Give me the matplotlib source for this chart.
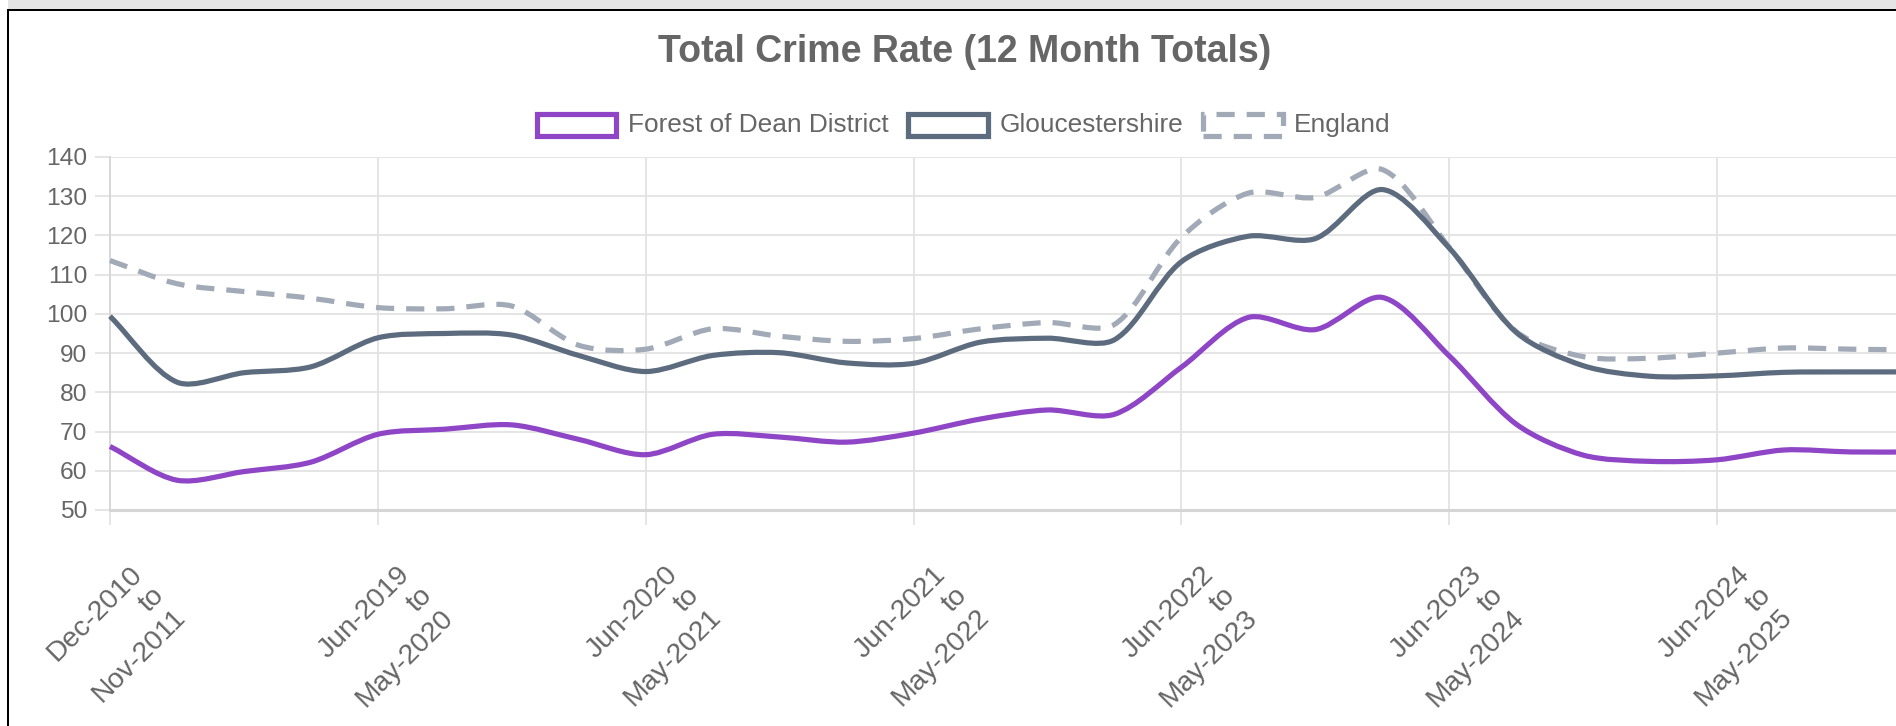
import numpy as np
import matplotlib
matplotlib.use("Agg")
import matplotlib.pyplot as plt
from matplotlib.path import Path
from matplotlib.patches import PathPatch, Rectangle

plt.rcParams['font.family'] = ['Liberation Sans', 'DejaVu Sans']

# ---------------- data ----------------
periods = [
    "Dec-2010\nto\nNov-2011", "Sep-2018\nto\nAug-2019", "Dec-2018\nto\nNov-2019", "Mar-2019\nto\nFeb-2020",
    "Jun-2019\nto\nMay-2020", "Sep-2019\nto\nAug-2020", "Dec-2019\nto\nNov-2020", "Mar-2020\nto\nFeb-2021",
    "Jun-2020\nto\nMay-2021", "Sep-2020\nto\nAug-2021", "Dec-2020\nto\nNov-2021", "Mar-2021\nto\nFeb-2022",
    "Jun-2021\nto\nMay-2022", "Sep-2021\nto\nAug-2022", "Dec-2021\nto\nNov-2022", "Mar-2022\nto\nFeb-2023",
    "Jun-2022\nto\nMay-2023", "Sep-2022\nto\nAug-2023", "Dec-2022\nto\nNov-2023", "Mar-2023\nto\nFeb-2024",
    "Jun-2023\nto\nMay-2024", "Sep-2023\nto\nAug-2024", "Dec-2023\nto\nNov-2024", "Mar-2024\nto\nFeb-2025",
    "Jun-2024\nto\nMay-2025", "Sep-2024\nto\nAug-2025", "Dec-2024\nto\nNov-2025", "Mar-2025\nto\nFeb-2026",
]
forest_of_dean = [66.2, 57.6, 59.8, 62.2, 69.3, 70.6, 71.7, 68.0, 64.1, 69.3, 68.6, 67.3, 69.6, 73.2,
                  75.5, 74.4, 86.4, 99.1, 96.0, 104.2, 89.3, 71.9, 64.0, 62.4, 62.8, 65.3, 64.8, 64.8]
gloucestershire = [99.4, 82.6, 85.0, 86.5, 93.9, 95.0, 94.6, 89.4, 85.3, 89.4, 90.1, 87.5, 87.4, 92.8,
                   93.8, 93.4, 113.3, 119.8, 119.2, 131.7, 116.8, 95.3, 86.8, 84.1, 84.2, 85.1, 85.2, 85.2]
england = [113.6, 107.7, 105.7, 104.0, 101.6, 101.3, 102.0, 92.0, 91.0, 96.2, 94.3, 93.0, 93.7, 96.2,
           97.8, 97.3, 119.5, 130.8, 129.7, 136.8, 117.0, 95.5, 89.1, 88.7, 90.0, 91.3, 91.0, 90.8]
series_names = ["Forest of Dean District", "Gloucestershire", "England"]
y_ticks = [50, 60, 70, 80, 90, 100, 110, 120, 130, 140]
label_step = 4

# ---------------- style ----------------
W, H = 1896, 726
DPI = 100
PT = 72.0 / DPI  # points per pixel
colors = ["#8e45c6", "#5d6b7e", "#a2aab7"]
LW = 5.2 * PT
dash = (0, (3.5, 2.3))
grid_c = "#e3e3e3"
text_c = "#666666"

fig = plt.figure(figsize=(W / DPI, H / DPI), dpi=DPI)
fig.patch.set_facecolor("white")

def px_rect(x0, y0, x1, y1, **kw):
    r = Rectangle((x0 / W, 1 - y1 / H), (x1 - x0) / W, (y1 - y0) / H,
                  transform=fig.transFigure, **kw)
    fig.patches.append(r)
    return r

# page chrome: grey band and black frame
px_rect(8, 0, W, 9, facecolor="#e5e5e5", edgecolor="none")
px_rect(7, 9, W, 11, facecolor="black", edgecolor="none")
px_rect(7, 9, 9, H, facecolor="black", edgecolor="none")

# axes geometry (pixels, top-origin)
n = len(periods)
x_left, y_top, y_bot = 110, 157, 510
step_px = 66.96
x_right = x_left + step_px * (n - 1)
ax = fig.add_axes([x_left / W, 1 - y_bot / H, (x_right - x_left) / W, (y_bot - y_top) / H])
ax.set_xlim(0, n - 1)
ax.set_ylim(y_ticks[0], y_ticks[-1])
ax.patch.set_alpha(0)

sx = step_px
sy = (y_bot - y_top) / (y_ticks[-1] - y_ticks[0])

def chartjs_path(ys, tension=0.3):
    xs = np.arange(len(ys), dtype=float)
    ys = np.asarray(ys, dtype=float)
    cps_prev, cps_next = [], []
    for i in range(len(ys)):
        p = i - 1 if i > 0 else i
        nx = i + 1 if i < len(ys) - 1 else i
        d01 = np.hypot((xs[i] - xs[p]) * sx, (ys[i] - ys[p]) * sy)
        d12 = np.hypot((xs[nx] - xs[i]) * sx, (ys[nx] - ys[i]) * sy)
        tot = d01 + d12
        s01 = d01 / tot if tot else 0
        s12 = d12 / tot if tot else 0
        fa, fb = tension * s01, tension * s12
        dx, dy = xs[nx] - xs[p], ys[nx] - ys[p]
        cps_prev.append((xs[i] - fa * dx, ys[i] - fa * dy))
        cps_next.append((xs[i] + fb * dx, ys[i] + fb * dy))
    verts = [(xs[0], ys[0])]
    codes = [Path.MOVETO]
    for i in range(len(ys) - 1):
        verts += [cps_next[i], cps_prev[i + 1], (xs[i + 1], ys[i + 1])]
        codes += [Path.CURVE4] * 3
    return Path(verts, codes)

all_series = [forest_of_dean, gloucestershire, england]
styles = ["solid", "solid", dash]
zorders = [5, 4, 3]
for vals, c, ls, z in zip(all_series, colors, styles, zorders):
    pp = PathPatch(chartjs_path(vals), facecolor="none", edgecolor=c, lw=LW,
                   linestyle=ls, zorder=z, capstyle="butt", joinstyle="round")
    pp.set_clip_on(False)
    ax.add_patch(pp)

# grid & axes
ax.set_yticks(y_ticks)
ax.set_yticklabels([str(v) for v in y_ticks])
tick_idx = list(range(0, n, label_step))
ax.set_xticks(tick_idx)
ax.set_xticklabels([""] * len(tick_idx))
ax.grid(True, color=grid_c, lw=1.3, zorder=0)
ax.set_axisbelow(True)
ax.tick_params(axis="y", length=15 * PT, width=1.3, color=grid_c, pad=8 * PT,
               labelsize=24.5 * PT, labelcolor=text_c)
ax.tick_params(axis="x", length=15 * PT, width=1.3, color=grid_c, pad=0)
for s in ["top", "right"]:
    ax.spines[s].set_visible(False)
ax.spines["left"].set_color("#d8d8d8")
ax.spines["left"].set_linewidth(1.4)
ax.spines["bottom"].set_color("#d5d5d5")
ax.spines["bottom"].set_linewidth(2.2)

# rotated multi-line category labels
for i in tick_idx:
    ax.annotate(periods[i], xy=(i, y_ticks[0]), xycoords="data",
                xytext=(50 * PT, -82 * PT), textcoords="offset points",
                rotation=45, rotation_mode="anchor", ha="right", va="center",
                multialignment="right", fontsize=28.3 * PT, color=text_c,
                linespacing=1.22, annotation_clip=False)

# title
fig.text(965 / W, 1 - 62 / H, "Total Crime Rate (12 Month Totals)", ha="center",
         va="baseline", fontsize=37.5 * PT, fontweight="bold", color=text_c)

# legend (Chart.js style boxes)
renderer = fig.canvas.get_renderer()
box_w, box_h, gap_txt, gap_item = 85, 28, 9, 17
x = 534
box_top = 111
for name, c, ls in zip(series_names, colors, styles):
    inset = LW / PT / 2
    px_rect(x + inset, box_top + inset, x + box_w - inset, box_top + box_h - inset,
            facecolor="white", edgecolor=c, lw=LW, linestyle=ls)
    t = fig.text((x + box_w + gap_txt) / W, 1 - 132 / H, name, ha="left", va="baseline",
                 fontsize=26.2 * PT, color=text_c)
    bb = t.get_window_extent(renderer)
    x = bb.x1 + gap_item

fig.savefig("out.png", dpi=DPI)
